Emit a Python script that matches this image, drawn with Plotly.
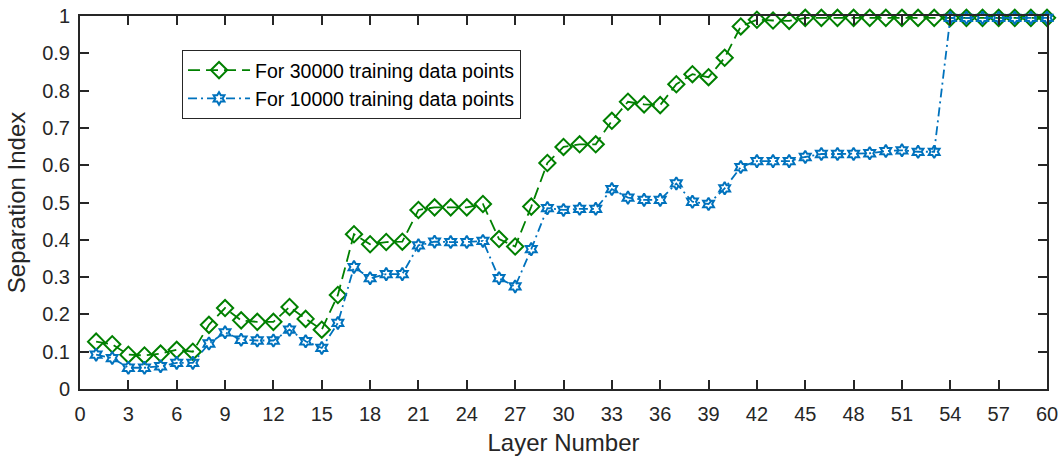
import plotly.graph_objects as go

layers = list(range(1, 61))

si_30000 = [0.127, 0.12, 0.092, 0.09, 0.095, 0.105, 0.10, 0.172, 0.217, 0.184,
            0.18, 0.18, 0.22, 0.188, 0.159, 0.252, 0.415, 0.388, 0.394, 0.395,
            0.48, 0.487, 0.487, 0.487, 0.496, 0.402, 0.382, 0.489, 0.606, 0.649,
            0.656, 0.656, 0.719, 0.77, 0.763, 0.761, 0.817, 0.844, 0.836, 0.888,
            0.972, 0.99, 0.988, 0.987, 0.995, 0.995, 0.995, 0.995, 0.995, 0.995,
            0.995, 0.995, 0.995, 0.995, 0.995, 0.995, 0.995, 0.995, 0.995, 0.995]

si_10000 = [0.092, 0.083, 0.057, 0.057, 0.061, 0.07, 0.07, 0.122, 0.152, 0.132,
            0.13, 0.13, 0.159, 0.128, 0.11, 0.177, 0.327, 0.297, 0.308, 0.308,
            0.385, 0.395, 0.394, 0.394, 0.397, 0.297, 0.275, 0.375, 0.485, 0.48,
            0.483, 0.483, 0.536, 0.513, 0.507, 0.507, 0.551, 0.502, 0.496, 0.538,
            0.595, 0.611, 0.611, 0.611, 0.622, 0.63, 0.63, 0.63, 0.632, 0.638,
            0.64, 0.636, 0.636, 0.995, 0.995, 0.995, 0.995, 0.995, 0.995, 0.995]

x_ticks = list(range(0, 61, 3))
y_ticks = [0, 0.1, 0.2, 0.3, 0.4, 0.5, 0.6, 0.7, 0.8, 0.9, 1]
y_tick_text = ["0", "0.1", "0.2", "0.3", "0.4", "0.5", "0.6", "0.7", "0.8", "0.9", "1"]

green = "#008000"
blue = "#0072BD"
axis_col = "#262626"
font_family = "Liberation Sans, Arial, Helvetica, sans-serif"

fig = go.Figure()
fig.add_trace(go.Scatter(
    x=layers, y=si_30000, mode="lines+markers",
    name="For 30000 training data points",
    line=dict(color=green, width=1.8, dash="12px,6px"),
    marker=dict(symbol="diamond-open", size=12.5, color=green,
                line=dict(color=green, width=2)),
    cliponaxis=False,
))
fig.add_trace(go.Scatter(
    x=layers, y=si_10000, mode="lines+markers",
    name="For 10000 training data points",
    line=dict(color=blue, width=1.8, dash="9px,4px,2px,4px"),
    marker=dict(symbol="hexagram-open", size=9.5, color=blue,
                line=dict(color=blue, width=2)),
    cliponaxis=False,
))

fig.update_layout(
    width=1062, height=459,
    margin=dict(l=80, r=15, t=16, b=69.5),
    paper_bgcolor="white", plot_bgcolor="white",
    font=dict(family=font_family, size=20, color=axis_col),
    showlegend=True,
    hovermode=False,
    legend=dict(
        x=0.1055, y=0.909, xanchor="left", yanchor="top",
        bgcolor="white", bordercolor=axis_col, borderwidth=1,
        font=dict(size=19.5, color="#000000"),
        tracegroupgap=0, itemwidth=62,
    ),
    xaxis=dict(
        range=[0, 60], tickmode="array", tickvals=x_ticks,
        ticks="inside", ticklen=9, tickwidth=1.5, tickcolor=axis_col,
        showline=True, linecolor=axis_col, linewidth=2, mirror="ticks",
        showgrid=False, zeroline=False, automargin=False,
        ticklabelstandoff=6,
        tickfont=dict(size=20, color=axis_col),
        title=dict(text="Layer Number", font=dict(size=24, color=axis_col), standoff=10),
    ),
    yaxis=dict(
        range=[0, 1], tickmode="array", tickvals=y_ticks, ticktext=y_tick_text,
        ticks="inside", ticklen=9, tickwidth=1.5, tickcolor=axis_col,
        showline=True, linecolor=axis_col, linewidth=2, mirror="ticks",
        showgrid=False, zeroline=False, automargin=False,
        ticklabelstandoff=4,
        tickfont=dict(size=20, color=axis_col),
        title=dict(text="Separation Index", font=dict(size=24, color=axis_col), standoff=10),
    ),
)

fig.write_html(
    "out.html",
    config={"displayModeBar": False},
    post_script="document.body.style.margin='0';document.body.style.overflow='hidden';",
)
